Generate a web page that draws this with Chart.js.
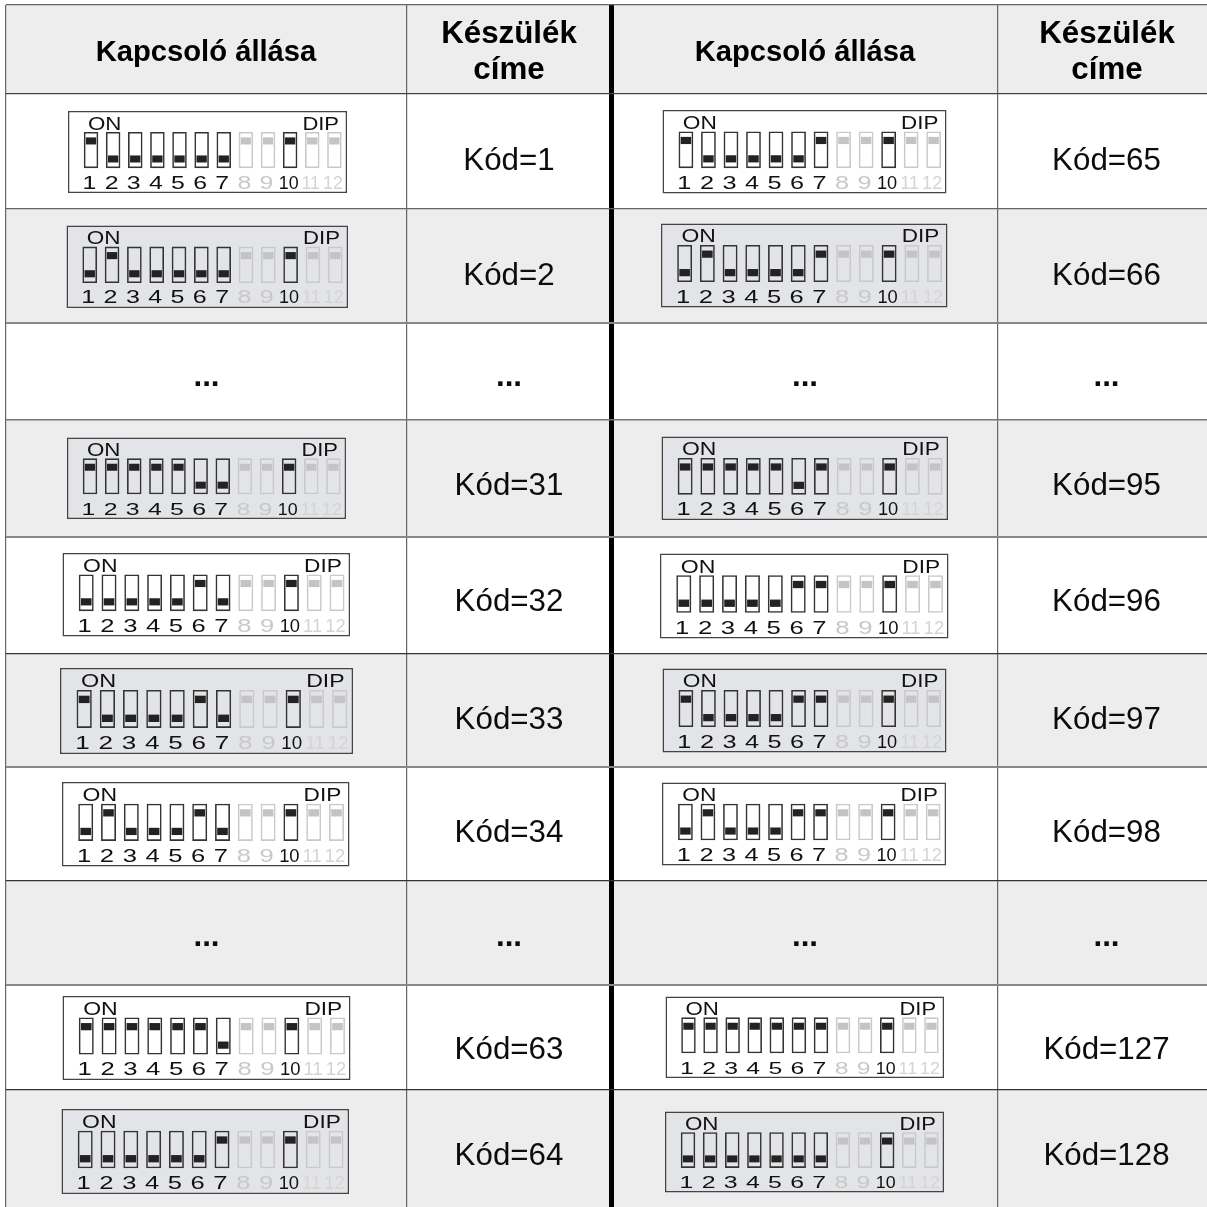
<!DOCTYPE html>
<html lang="hu">
<head>
  <meta charset="UTF-8">
  <title>Kapcsoló állása</title>
  <script src="https://cdn.jsdelivr.net/npm/chart.js"></script>
  <style>
    body { margin: 0; background: #fff; }
    canvas { display: block; }
  </style>
</head>
<body>
  <canvas id="myChart" width="1207" height="1207"></canvas>

  <script>
    // table content
    const headerSwitch = 'Kapcsoló állása';
    const headerCode = ['Készülék', 'címe'];
    const leftCodes = ['Kód=1', 'Kód=2', '...', 'Kód=31', 'Kód=32', 'Kód=33', 'Kód=34', '...', 'Kód=63', 'Kód=64'];
    const rightCodes = ['Kód=65', 'Kód=66', '...', 'Kód=95', 'Kód=96', 'Kód=97', 'Kód=98', '...', 'Kód=127', 'Kód=128'];

    // which of the switches 1-7 are up in each row, null = "..." row
    const leftSwitches = [[1], [2], null, [1, 2, 3, 4, 5], [6], [1, 6], [2, 6], null, [1, 2, 3, 4, 5, 6], [7]];
    const rightSwitches = [[1, 7], [2, 7], null, [1, 2, 3, 4, 5, 7], [6, 7], [1, 6, 7], [2, 6, 7], null, [1, 2, 3, 4, 5, 6, 7], []];

    const switchNames = ['1', '2', '3', '4', '5', '6', '7', '8', '9', '10', '11', '12'];
    const fixedUp = [8, 9, 10, 11, 12];   // always up
    const fadedSwitches = [8, 9, 11, 12]; // printed in grey

    // layout, the axes run in page pixels
    const rowEdges = [5, 94, 209, 323, 420, 537, 654, 767, 881, 985, 1090];
    const rowEdgeColors = ['#666', '#444', '#666', '#888', '#777', '#888', '#333', '#888', '#333', '#888', '#333'];
    const rowEdgeWidths = [1.2, 1.2, 1.2, 2, 1.5, 2, 1.2, 2, 1.2, 2, 1.2];
    const colEdges = [6, 406.5, 611.5, 997.5];
    const colEdgeColors = ['#666', '#666', '#000', '#666'];
    const colEdgeWidths = [1.2, 1.2, 5, 1.2];
    const tableBottom = 1207;
    const textRows = [170, 285, 386, 495, 611, 729, 842, 946, 1059, 1165];

    // left, top, right, bottom of each plate
    const leftPlates = [
      [68, 111, 347, 193], [66.5, 225.5, 348, 308], null, [67, 437.5, 346, 519], [62.5, 553, 350, 636.5],
      [60, 668, 353, 754], [62, 782, 349.5, 866.5], null, [62.5, 996, 350.5, 1080], [61.5, 1109, 349, 1194]
    ];
    const rightPlates = [
      [662.5, 110, 946.5, 193.5], [661, 223.5, 947.5, 307.5], null, [661.5, 436.5, 948, 520], [660, 553.5, 948.5, 638.5],
      [662.5, 668.5, 946.5, 752.5], [662, 782.5, 946, 865.5], null, [665.5, 996.5, 944, 1078], [665, 1111.5, 944, 1192.5]
    ];

    const shadeColor = '#ededed';
    const plateShade = '#e3e4e7';
    const font = '"Liberation Sans", Arial, sans-serif';

    const datasets = [];

    // grey table rows, every second one starting with the header
    const shadeBars = [];
    for (let i = 0; i < rowEdges.length; i += 2) {
      shadeBars.push({ x: 606.5, y: [rowEdges[i], i + 1 < rowEdges.length ? rowEdges[i + 1] : tableBottom] });
    }
    datasets.push({
      label: 'rows', stack: 't', order: 4, barThickness: 1201, data: shadeBars,
      backgroundColor: shadeColor, borderWidth: 0, inflateAmount: 0
    });

    function switchX(plate, n) {
      const w = plate[2] - plate[0];
      return plate[0] + w * (0.0825 + 0.0793 * (n - 1));
    }

    function addPlate(plate, up, rowIndex) {
      const w = plate[2] - plate[0];
      const h = plate[3] - plate[1];
      const shaded = rowIndex % 2 === 1;
      datasets.push({
        label: 'plate', stack: 't', order: 3, barThickness: w,
        data: [{ x: (plate[0] + plate[2]) / 2, y: [plate[1], plate[3]] }],
        backgroundColor: shaded ? plateShade : '#fff',
        borderColor: '#444', borderWidth: 1.5, borderSkipped: false, inflateAmount: 0
      });

      const bodies = [];
      const knobs = [];
      const bodyColors = [];
      const knobColors = [];
      switchNames.forEach((name, i) => {
        const n = i + 1;
        const x = switchX(plate, n);
        const isUp = up.includes(n) || fixedUp.includes(n);
        const cy = plate[1] + h * (isUp ? 0.365 : 0.585);
        const faded = fadedSwitches.includes(n);
        bodies.push({ x: x, y: [plate[1] + h * 0.256, plate[1] + h * 0.697] });
        knobs.push({ x: x, y: [cy - h * 0.043, cy + h * 0.043] });
        bodyColors.push(faded ? '#c9c9c9' : '#333');
        knobColors.push(faded ? '#c4c4c4' : '#222');
      });
      datasets.push({
        label: 'switch', stack: 't', order: 2, barThickness: w * 0.052, data: bodies,
        backgroundColor: 'rgba(255,255,255,0)', borderColor: bodyColors,
        borderWidth: 1.6, borderSkipped: false, inflateAmount: 0
      });
      datasets.push({
        label: 'knob', stack: 't', order: 1, barThickness: w * 0.037, data: knobs,
        backgroundColor: knobColors, borderWidth: 0, inflateAmount: 0
      });
    }

    leftPlates.forEach((p, i) => { if (p) addPlate(p, leftSwitches[i], i); });
    rightPlates.forEach((p, i) => { if (p) addPlate(p, rightSwitches[i], i); });

    // stretched text, the plate pictures are wider than the font
    function wideText(c, text, x, y, size, stretchX, stretchY, align) {
      c.save();
      c.translate(x, y);
      c.scale(stretchX, stretchY);
      c.font = size + 'px ' + font;
      c.textAlign = align;
      c.fillText(text, 0, 0);
      c.restore();
    }

    const tableText = {
      id: 'tableText',
      afterDatasetsDraw(chart) {
        const c = chart.ctx;
        const xs = chart.scales.x;
        const ys = chart.scales.y;
        const px = v => xs.getPixelForValue(v);
        const py = v => ys.getPixelForValue(v);

        c.save();
        c.textBaseline = 'alphabetic';
        c.textAlign = 'center';
        c.fillStyle = '#000';

        // headers
        c.font = 'bold 29.2px ' + font;
        c.fillText(headerSwitch, px(206), py(61));
        c.fillText(headerSwitch, px(805), py(61));
        c.font = 'bold 31.3px ' + font;
        [509, 1107].forEach(cx => {
          c.fillText(headerCode[0], px(cx), py(43));
          c.fillText(headerCode[1], px(cx), py(79));
        });

        // address cells
        textRows.forEach((y, i) => {
          const dots = leftCodes[i] === '...';
          c.font = (dots ? 'bold ' : '') + '31.3px ' + font;
          c.fillStyle = '#0c0c0c';
          c.fillText(leftCodes[i], px(509), py(y));
          c.fillText(rightCodes[i], px(1106.5), py(y));
          if (dots) {
            c.fillText('...', px(206.5), py(y));
            c.fillText('...', px(805), py(y));
          }
        });

        // plate lettering
        [leftPlates, rightPlates].forEach(plates => plates.forEach(p => {
          if (!p) return;
          const sx = (p[2] - p[0]) / 279;
          const sy = (p[3] - p[1]) / 82;
          c.fillStyle = '#111';
          wideText(c, 'ON', px(p[0] + 20 * sx), py(p[1] + 18.5 * sy), 18, 1.24 * sx, sy, 'left');
          wideText(c, 'DIP', px(p[0] + 271 * sx), py(p[1] + 18.5 * sy), 18, 1.22 * sx, sy, 'right');
          switchNames.forEach((name, i) => {
            const n = i + 1;
            const x = switchX(p, n) - 1.5 * sx;
            c.fillStyle = n === 11 || n === 12 ? '#d4d4d4' : (n === 8 || n === 9 ? '#c8c8c8' : '#111');
            wideText(c, name, px(x), py(p[1] + 77.5 * sy), 17.5, (n > 9 ? 1.02 : 1.42) * sx, sy, 'center');
          });
        }));
        c.restore();
      }
    };

    const myChart = new Chart(document.getElementById('myChart'), {
      type: 'bar',
      data: { datasets: datasets },
      plugins: [tableText],
      options: {
        responsive: false,
        animation: false,
        events: [],
        layout: { padding: { top: 5, left: 6, right: 0, bottom: 0 } },
        plugins: { legend: { display: false }, tooltip: { enabled: false } },
        scales: {
          x: {
            type: 'linear', min: 6, max: 1207, offset: false,
            afterBuildTicks: axis => { axis.ticks = colEdges.map(v => ({ value: v })); },
            ticks: { display: false, autoSkip: false },
            border: { display: false },
            grid: { z: 1, offset: false, drawTicks: false, color: colEdgeColors, lineWidth: colEdgeWidths }
          },
          y: {
            type: 'linear', reverse: true, stacked: false, min: 5, max: 1207,
            afterBuildTicks: axis => { axis.ticks = rowEdges.map(v => ({ value: v })); },
            ticks: { display: false, autoSkip: false },
            border: { display: false },
            grid: { z: 1, drawTicks: false, color: rowEdgeColors, lineWidth: rowEdgeWidths }
          }
        }
      }
    });
  </script>
</body>
</html>
